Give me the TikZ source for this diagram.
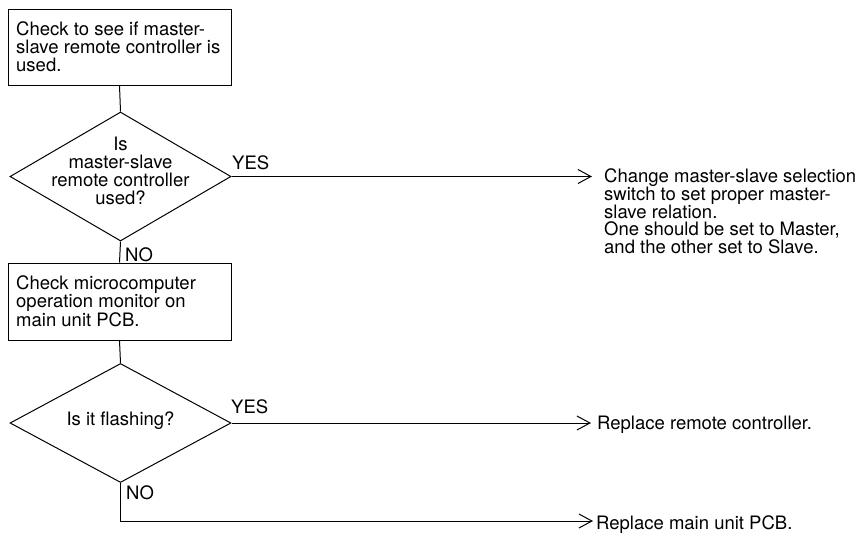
\documentclass[tikz,border=0pt]{standalone}
\usepackage{fontspec}
\setmainfont{TeX Gyre Heros}
\usetikzlibrary{shapes.geometric,arrows.meta}
\begin{document}
\begin{tikzpicture}[x=1pt,y=-1pt,
  every node/.style={font=\fontsize{18.5}{17.8}\selectfont, inner sep=0pt},
  boxnode/.style={draw, line width=1pt, minimum width=223pt},
  boxtext/.style={anchor=west, align=left},
  dia/.style={draw, diamond, line width=1pt, minimum width=221pt, inner sep=0pt},
  lbl/.style={anchor=base west},
  note/.style={anchor=north west, align=left},
  line/.style={line width=1pt},
  arr/.style={line width=1pt, -{Straight Barb[length=13pt,width=14pt,line width=1pt]}},
]
\useasboundingbox (0,0) rectangle (867,536);
% boxes
\node[boxnode, minimum height=76pt] (b1) at (119.5,47) {};
\node[boxtext] (b1t) at (16,47) {Check to see if master-\\slave remote controller is\\used.};
\node[boxnode, minimum height=77pt] (b2) at (119.5,301.5) {};
\node[boxtext] (b2t) at (16,301.5) {Check microcomputer\\operation monitor on\\main unit PCB.};
% diamonds
\node[dia, minimum height=129pt] (d1) at (120.5,176.5) {};
\node[align=center] (d1t) at (120.5,171) {Is\\master-slave\\remote controller\\used?};
\node[dia, minimum height=119pt] (d2) at (120.5,423) {};
\node (d2t) at (120.5,421) {Is it flashing?};
% coordinates
\coordinate (a1) at (592,176.5);
\coordinate (a2) at (591,423);
\coordinate (c3) at (120.5,521);
\coordinate (a3) at (593,521);
% connectors
\draw[line] (b1.south) -- (d1.north);
\draw[line] (d1.south) -- (b2.north);
\draw[line] (b2.south) -- (d2.north);
\draw[arr] (d1.east) -- (a1);
\draw[arr] (d2.east) -- (a2);
\draw[arr] (d2.south) -- (c3) -- (a3);
% labels
\node[lbl] (y1) at (232,169) {YES};
\node[lbl] (n1) at (125,261.5) {NO};
\node[lbl] (y2) at (231,413.5) {YES};
\node[lbl] (n2) at (126,499.5) {NO};
% results
\node[note] (r1) at (604,168.5) {Change master-slave selection\\switch to set proper master-\\slave relation.\\One should be set to Master,\\and the other set to Slave.};
\node[lbl] (r2) at (597,429.5) {Replace remote controller.};
\node[lbl] (r3) at (596,529) {Replace main unit PCB.};
\end{tikzpicture}
\end{document}
